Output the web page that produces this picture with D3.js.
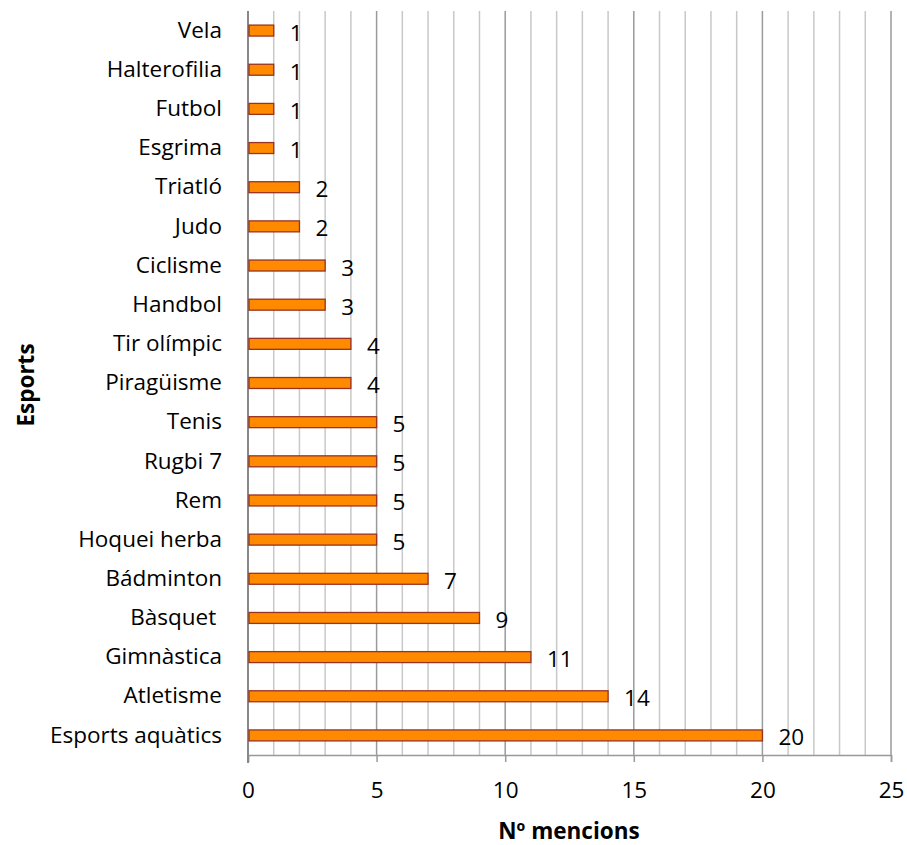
<!DOCTYPE html>
<html><head><meta charset="utf-8">
<script src="https://cdn.jsdelivr.net/npm/d3@7"></script>
<style>body{margin:0;background:#fff}svg{display:block}text{font-family:"Open Sans",sans-serif;white-space:pre}</style>
</head><body><svg id="c" width="907" height="845"></svg>
<script>
const categories = ["Vela","Halterofilia","Futbol","Esgrima","Triatló","Judo","Ciclisme","Handbol","Tir olímpic","Piragüisme","Tenis","Rugbi 7","Rem","Hoquei herba","Bádminton","Bàsquet ","Gimnàstica","Atletisme","Esports aquàtics"];
const values = [1,1,1,1,2,2,3,3,4,4,5,5,5,5,7,9,11,14,20];
const xTicks = [0,5,10,15,20,25];
const xTitle = "Nº mencions";
const yTitle = "Esports";

const svg = d3.select("#c");
const L = 248, R = 891, T = 11, B = 755;
const FF = "'Open Sans'", FS = 22.5;
const x = d3.scaleLinear().domain([0,25]).range([L,R]);
const y = d3.scaleBand().domain(categories).range([T,B]).paddingInner(0.72).paddingOuter(0.36);

svg.append("g").selectAll("line").data(d3.range(1,26).filter(d=>d%5!==0)).join("line")
  .attr("x1",d=>x(d)).attr("x2",d=>x(d)).attr("y1",T).attr("y2",B)
  .attr("stroke","#c8c8c8").attr("stroke-width",1.5);
svg.append("g").selectAll("line").data(xTicks.slice(1)).join("line")
  .attr("x1",d=>x(d)).attr("x2",d=>x(d)).attr("y1",T).attr("y2",B)
  .attr("stroke","#9a9a9a").attr("stroke-width",1.5);

const xa = svg.append("g").attr("transform",`translate(0,${B})`)
  .call(d3.axisBottom(x).tickValues(xTicks).tickSize(7).tickPadding(20));
xa.select(".domain").attr("stroke","#999").attr("stroke-width",1.5);
xa.selectAll(".tick line").attr("stroke","#999").attr("stroke-width",1.5);
xa.selectAll("text").attr("font-size",FS).attr("fill","#000").attr("font-family",FF);

const ya = svg.append("g").attr("transform",`translate(${L},0)`)
  .call(d3.axisLeft(y).tickSize(0).tickPadding(26));
ya.select(".domain").attr("stroke","#888").attr("stroke-width",2).attr("d",`M0,${T}V${B+8}`);
ya.selectAll("text").attr("font-size",FS).attr("fill","#000").attr("font-family",FF).attr("xml:space","preserve");

svg.append("g").selectAll("rect").data(values).join("rect")
  .attr("x",x(0)+1).attr("y",(d,i)=>y(categories[i]))
  .attr("width",d=>x(d)-x(0)-1).attr("height",y.bandwidth())
  .attr("fill","#ff8a00").attr("stroke","#993322").attr("stroke-width",1.3);

svg.append("g").selectAll("text").data(values).join("text")
  .attr("x",d=>x(d)+16).attr("y",(d,i)=>y(categories[i])+y.bandwidth()/2+10)
  .attr("font-size",FS).attr("fill","#000").text(d=>d);

svg.append("text").attr("x",569).attr("y",839).attr("text-anchor","middle")
  .attr("font-size",FS).attr("font-weight","bold").text(xTitle);
svg.append("text").attr("transform","translate(34,385) rotate(-90)").attr("text-anchor","middle")
  .attr("font-size",FS).attr("font-weight","bold").text(yTitle);
</script></body></html>
